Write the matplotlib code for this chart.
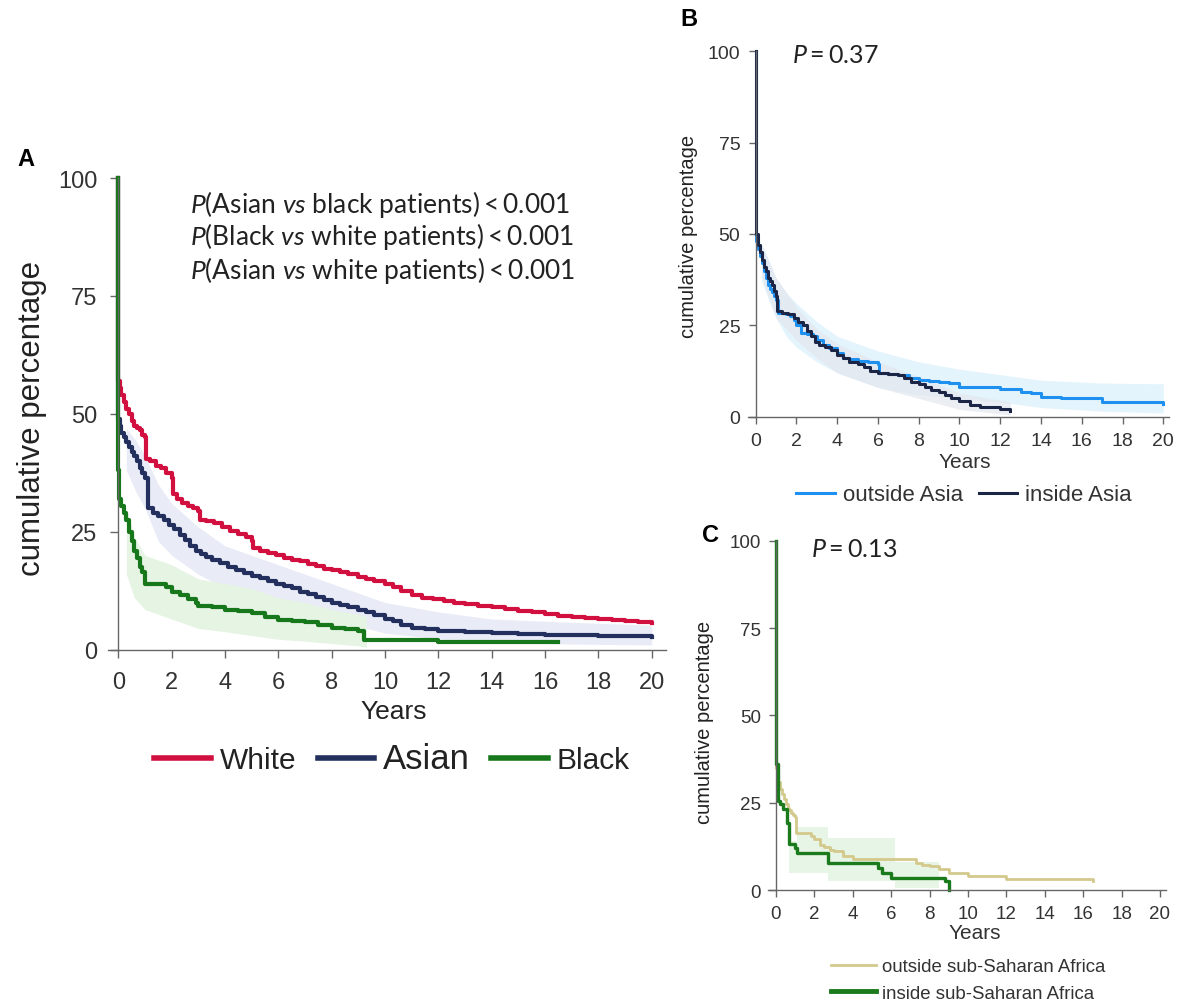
import numpy as np
import matplotlib
matplotlib.use("Agg")
import matplotlib.pyplot as plt

plt.rcParams['font.family'] = ['Liberation Sans', 'DejaVu Sans']
plt.rcParams['mathtext.fontset'] = 'custom'
plt.rcParams['mathtext.rm'] = 'Lato'
plt.rcParams['mathtext.it'] = 'Lato:italic'

# ---- panel A: by race ----
white_t = [0, 0, 0.05, 0.1, 0.2, 0.3, 0.4, 0.5, 0.6, 0.7, 0.8, 0.9, 1.0, 1.05, 1.2, 1.4, 1.6, 1.8, 2.0,
           2.05, 2.2, 2.4, 2.6, 2.8, 3.0, 3.05, 3.3, 3.6, 3.9, 4.2, 4.5, 4.8, 5.0, 5.05, 5.3, 5.6, 5.9,
           6.2, 6.5, 6.8, 7.1, 7.4, 7.7, 8.0, 8.3, 8.6, 9.0, 9.3, 9.6, 10.0, 10.3, 10.6, 11.0, 11.4,
           11.8, 12.2, 12.6, 13.0, 13.5, 14.0, 14.5, 15.0, 15.5, 16.0, 16.5, 17.0, 17.5, 18.0, 18.5,
           19.0, 19.5, 20.0]
white_v = [100, 57, 55.5, 54, 52.5, 51, 50, 48.5, 47.5, 47, 46.5, 45.5, 45, 40.5, 40, 39, 38.5, 37.5,
           36.5, 33, 32, 31, 30.5, 30, 29.3, 27.5, 27.2, 26.8, 26, 25.2, 24.5, 23.8, 23, 21.5, 21, 20.5,
           20, 19.5, 19, 18.7, 18.2, 17.8, 17.2, 16.8, 16.5, 16, 15.5, 15, 14.5, 14, 13.2, 12.5, 11.5,
           11, 10.7, 10.3, 10, 9.7, 9.3, 9, 8.6, 8.3, 8, 7.6, 7.2, 7, 6.8, 6.5, 6.3, 6.1, 5.9, 5.6]

asian_t = [0, 0, 0.05, 0.1, 0.2, 0.3, 0.4, 0.5, 0.6, 0.7, 0.8, 0.9, 1.0, 1.1, 1.3, 1.5, 1.7, 1.9, 2.1,
           2.3, 2.5, 2.7, 2.9, 3.1, 3.3, 3.5, 3.8, 4.1, 4.4, 4.7, 5.0, 5.3, 5.6, 5.9, 6.2, 6.5, 6.8,
           7.1, 7.4, 7.7, 8.0, 8.3, 8.6, 9.0, 9.3, 9.6, 10.0, 10.3, 10.6, 11.0, 11.5, 12.0, 13.0,
           14.0, 15.0, 16.0, 17.0, 18.0, 20.0]
asian_v = [100, 49, 47.5, 46, 45, 44, 43, 42, 41, 40, 38.5, 37.5, 36.5, 30, 29, 28.3, 27.5, 26.5, 25.5,
           24.3, 23.3, 22, 21, 20.3, 19.6, 19, 18.3, 17.5, 16.9, 16.3, 15.7, 15.2, 14.6, 14, 13.5, 13,
           12.3, 11.8, 11.2, 10.6, 10, 9.4, 9, 8.4, 7.9, 7.3, 6.5, 6, 5.2, 4.7, 4.3, 4.0, 3.8,
           3.5, 3.3, 3.2, 3.2, 2.9, 2.6]
asian_ci_t = [0.3, 0.7, 1.0, 1.5, 2.0, 3.0, 4.0, 5.0, 6.0, 8.0, 10.0, 12.0, 14.0, 17.0, 20.0]
asian_lo = [38, 33, 30, 23, 20, 16, 13, 11, 9.5, 6.5, 3.5, 2.3, 1.5, 1.2, 1.0]
asian_hi = [47, 44, 41, 35, 31, 26, 22, 20, 18, 14, 10, 8, 6.5, 5.8, 5.2]

black_t = [0, 0, 0.03, 0.1, 0.2, 0.3, 0.4, 0.5, 0.6, 0.7, 0.8, 0.9, 1.0, 1.5, 1.8, 2.0, 2.3, 2.6, 2.9,
           3.0, 3.5, 4.0, 4.5, 5.0, 5.5, 6.0, 6.5, 7.0, 7.5, 8.0, 8.5, 9.0, 9.2, 10.0, 12.0, 16.5]
black_v = [100, 38, 32, 30.5, 29, 27.5, 25, 23, 21, 19.5, 17.5, 16.5, 14, 14, 13.2, 12.3, 11.5, 10.8,
           10, 9.2, 9, 8.5, 8.2, 7.8, 7, 6.2, 6, 5.8, 5.3, 4.7, 4.3, 3.9, 2.0, 2.0, 1.7, 1.7]
black_ci_t = [0.3, 0.6, 1.0, 1.5, 2.0, 3.0, 4.0, 5.0, 6.0, 7.0, 8.0, 9.0, 9.3]
black_lo = [16, 11, 8.5, 7.5, 6.5, 4.5, 3.8, 3, 2.2, 1.8, 1.3, 0.8, 0.5]
black_hi = [30, 24, 20, 19, 18, 15, 14, 13, 11, 10, 8.5, 7.5, 7]

# ---- panel B: inside / outside Asia ----
outa_t = [0, 0, 0.1, 0.2, 0.3, 0.4, 0.5, 0.6, 0.7, 0.8, 0.9, 1.0, 1.1, 1.3, 1.5, 1.7, 1.9, 2.0, 2.2,
          2.5, 2.8, 3.0, 3.3, 3.6, 4.0, 4.3, 4.6, 5.0, 5.5, 6.0, 6.05, 6.5, 7.0, 7.5, 8.0, 8.5, 9.0,
          9.5, 10.0, 11.0, 12.0, 13.0, 13.5, 14.0, 15.0, 16.0, 17.0, 18.0, 20.0]
outa_v = [100, 48, 46, 44, 42, 40, 38, 36, 35, 34, 33, 32, 28.5, 28.3, 28, 27.5, 26.5, 25, 23, 22.5,
          22, 21, 19.5, 18.8, 17.5, 16, 15.8, 15.3, 15, 14.5, 12, 11.8, 11.5, 10.5, 10, 9.7, 9.5,
          9.2, 8, 8, 7.5, 6.8, 6.5, 5.3, 5.2, 5.2, 4.0, 4.0, 3.5]
outa_ci_t = [0.3, 0.7, 1.0, 1.5, 2.0, 3.0, 4.0, 5.0, 6.0, 8.0, 10.0, 12.0, 14.0, 17.0, 20.0]
outa_lo = [37, 31, 27, 22, 19, 15, 12, 10, 8, 6, 5, 4, 2.5, 1.5, 1.0]
outa_hi = [47, 42, 38, 34, 31, 26, 22, 20, 18, 15, 13, 11.5, 10, 9.2, 9]

ina_t = [0, 0, 0.1, 0.2, 0.3, 0.4, 0.5, 0.6, 0.7, 0.8, 0.9, 1.0, 1.05, 1.3, 1.6, 1.9, 2.1, 2.3, 2.5,
         2.7, 2.9, 3.1, 3.4, 3.7, 4.0, 4.3, 4.6, 5.0, 5.3, 5.6, 6.0, 6.5, 7.0, 7.3, 7.6, 8.0, 8.3,
         8.6, 9.0, 9.3, 9.6, 10.0, 10.5, 11.0, 12.0, 12.5]
ina_v = [100, 50, 47, 45, 43, 41, 40, 38, 37, 36, 34.5, 33, 29, 28.5, 28, 27, 26, 25, 23.5, 22, 20.5,
         19.5, 19, 18.2, 17, 16, 15, 14.5, 13.5, 12.5, 12, 11.8, 11.3, 10.5, 9.5, 9, 8, 7.2, 6.8,
         6, 5.2, 4.2, 3.3, 2.6, 2.2, 1.6]
ina_ci_t = [0.3, 1.0, 2.0, 3.0, 4.0, 6.0, 8.0, 10.0, 12.5]
ina_lo = [38, 27, 21, 16, 12, 8, 5, 2, 0.5]
ina_hi = [47, 38, 30, 24, 20, 15, 11, 6.5, 4]

# ---- panel C: inside / outside sub-Saharan Africa ----
outs_t = [0, 0, 0.1, 0.2, 0.3, 0.4, 0.5, 0.6, 0.7, 0.8, 0.9, 1.0, 1.05, 1.5, 1.8, 2.0, 2.3, 2.5, 2.8,
          3.0, 3.5, 4.0, 7.0, 7.3, 7.6, 8.0, 8.5, 9.0, 10.0, 12.0, 16.5]
outs_v = [100, 35, 31, 29, 27.5, 26, 24.5, 23.5, 23, 22, 21.5, 21, 16.4, 16.4, 15.5, 14.5, 13, 12.2,
          11.5, 11.2, 9.7, 8.8, 8.8, 7.8, 7.3, 6.9, 6, 5, 4, 3.1, 2.5]

ins_t = [0, 0, 0.1, 0.2, 0.35, 0.55, 0.7, 1.0, 1.1, 2.5, 2.7, 5.0, 5.3, 5.5, 6.0, 8.8, 9.0]
ins_v = [100, 36, 25.5, 24.5, 23.1, 19.3, 13.1, 12.1, 10.5, 10.5, 7.8, 7.8, 6.4, 5.0, 3.5, 2.6, 0]
ins_ci_t = [0.7, 1.1, 2.7, 5.5, 6.2, 8.5]
ins_lo = [5, 5, 2.5, 2.5, 0.5, 0]
ins_hi = [14, 18, 15, 15, 8, 8]

xticks = np.arange(0, 21, 2)
yticks = [0, 25, 50, 75, 100]


def style_axes(ax, tick_size, tick_len, pad):
    ax.set_xlim(-0.5, 20.7)
    ax.set_ylim(-1, 101)
    for s in ['top', 'right']:
        ax.spines[s].set_visible(False)
    ax.spines['left'].set_position(('data', 0))
    ax.spines['bottom'].set_position(('data', 0))
    ax.spines['left'].set_bounds(0, 100)
    ax.spines['bottom'].set_bounds(-0.4, 20.55)
    for s in ['left', 'bottom']:
        ax.spines[s].set_color('#666666')
        ax.spines[s].set_linewidth(1.0)
    ax.set_xticks(xticks)
    ax.set_yticks(yticks)
    ax.tick_params(direction='out', length=tick_len, width=1, color='#666666',
                   labelsize=tick_size, labelcolor='#333333', pad=pad)


fig = plt.figure(figsize=(11.8, 10.04), dpi=100)

# Panel A
axA = fig.add_axes([0.08898, 0.34721, 0.47915, 0.47918])
axA.fill_between(asian_ci_t, asian_lo, asian_hi, color='#e9ebf6', lw=0)
axA.fill_between(black_ci_t, black_lo, black_hi, color='#e6f4e4', lw=0)
axA.plot(white_t, white_v, drawstyle='steps-post', color='#d21040', lw=3, label='White')
axA.plot(asian_t, asian_v, drawstyle='steps-post', color='#23305e', lw=3, label='Asian')
axA.plot(black_t, black_v, drawstyle='steps-post', color='#16781a', lw=3, label='Black')
style_axes(axA, 17, 6, 9)
axA.set_ylabel('cumulative percentage', fontsize=22.5, color='#222222')
axA.yaxis.set_label_coords(-0.103, 0.493)
axA.set_xlabel('Years', fontsize=19, color='#222222')
axA.xaxis.set_label_coords(0.511, -0.093)
p_lines = [r'$\mathit{P}$(Asian $\mathit{vs}$ black patients)$<$0.001',
           r'$\mathit{P}$(Black $\mathit{vs}$ white patients)$<$0.001',
           r'$\mathit{P}$(Asian $\mathit{vs}$ white patients)$<$0.001']
for i, line in enumerate(p_lines):
    fig.text(190 / 1180, 1 - (204 + 33 * i) / 1004, line, fontsize=19, family='Lato',
             color='#222222', va='center', ha='left')
legA = fig.legend(loc='center', bbox_to_anchor=(392 / 1180, 1 - 760 / 1004), ncol=3, frameon=False,
                  fontsize=21.5, handlelength=1.9, handletextpad=0.3, columnspacing=0.7)
for t in legA.get_texts():
    t.set_color('#222222')
legA.get_texts()[1].set_fontsize(25)
for h in legA.get_lines():
    h.set_linewidth(4)
fig.text(17 / 1180, 1 - 159 / 1004, 'A', fontsize=17, fontweight='bold', va='center')

# Panel B
axB = fig.add_axes([0.63178, 0.58033, 0.36271, 0.37122])
axB.fill_between(outa_ci_t, outa_lo, outa_hi, color='#e4f4fc', lw=0)
axB.fill_between(ina_ci_t, ina_lo, ina_hi, color='#e3e7ef', lw=0, alpha=0.7)
axB.plot(outa_t, outa_v, drawstyle='steps-post', color='#1e90f0', lw=2.2, label='outside Asia')
axB.plot(ina_t, ina_v, drawstyle='steps-post', color='#1b2646', lw=2.2, label='inside Asia')
style_axes(axB, 14, 5, 6)
axB.set_xlim(-0.5, 20.5)
axB.spines['bottom'].set_bounds(-0.4, 20.3)
axB.set_ylabel('cumulative percentage', fontsize=14.5, color='#222222')
axB.yaxis.set_label_coords(-0.111, 0.495)
axB.set_xlabel('Years', fontsize=15, color='#333333')
axB.xaxis.set_label_coords(0.512, -0.085)
axB.text(792 / 1180, 1 - 56 / 1004, r'$\mathit{P}=\mathrm{0.37}$', transform=fig.transFigure,
         fontsize=18, color='#222222', va='center', ha='left')
legB = fig.legend(handles=axB.get_lines(), loc='center', bbox_to_anchor=(964 / 1180, 1 - 496 / 1004),
                  ncol=2, frameon=False, fontsize=16, handlelength=1.75, handletextpad=0.35,
                  columnspacing=0.7)
for t in legB.get_texts():
    t.set_color('#333333')
fig.text(680 / 1180, 1 - 19 / 1004, 'B', fontsize=17, fontweight='bold', va='center')

# Panel C
axC = fig.add_axes([0.64949, 0.10907, 0.34169, 0.35488])
axC.fill_between(ins_ci_t, ins_lo, ins_hi, step='post', color='#e7f5e6', lw=0)
axC.plot(outs_t, outs_v, drawstyle='steps-post', color='#d4c98c', lw=2.0,
         label='outside sub-Saharan Africa')
axC.plot(ins_t, ins_v, drawstyle='steps-post', color='#1b7a1b', lw=2.4,
         label='inside sub-Saharan Africa')
style_axes(axC, 13.5, 5, 6)
axC.set_xlim(-0.5, 20.5)
axC.spines['bottom'].set_bounds(-0.4, 20.3)
axC.set_ylabel('cumulative percentage', fontsize=14.5, color='#222222')
axC.yaxis.set_label_coords(-0.13, 0.484)
axC.set_xlabel('Years', fontsize=15, color='#333333')
axC.xaxis.set_label_coords(0.516, -0.083)
axC.text(811 / 1180, 1 - 550 / 1004, r'$\mathit{P}=\mathrm{0.13}$', transform=fig.transFigure,
         fontsize=18, color='#222222', va='center', ha='left')
legC = fig.legend(handles=axC.get_lines(), loc='center left',
                  bbox_to_anchor=(831 / 1180, 1 - 981 / 1004), ncol=1, frameon=False,
                  fontsize=13.4, handlelength=2.4, handletextpad=0.35, labelspacing=0.5,
                  borderpad=0, borderaxespad=0)
for t in legC.get_texts():
    t.set_color('#333333')
legC.get_lines()[1].set_linewidth(3.5)
fig.text(702 / 1180, 1 - 536 / 1004, 'C', fontsize=17, fontweight='bold', va='center')

fig.savefig('out.png', dpi=100)
